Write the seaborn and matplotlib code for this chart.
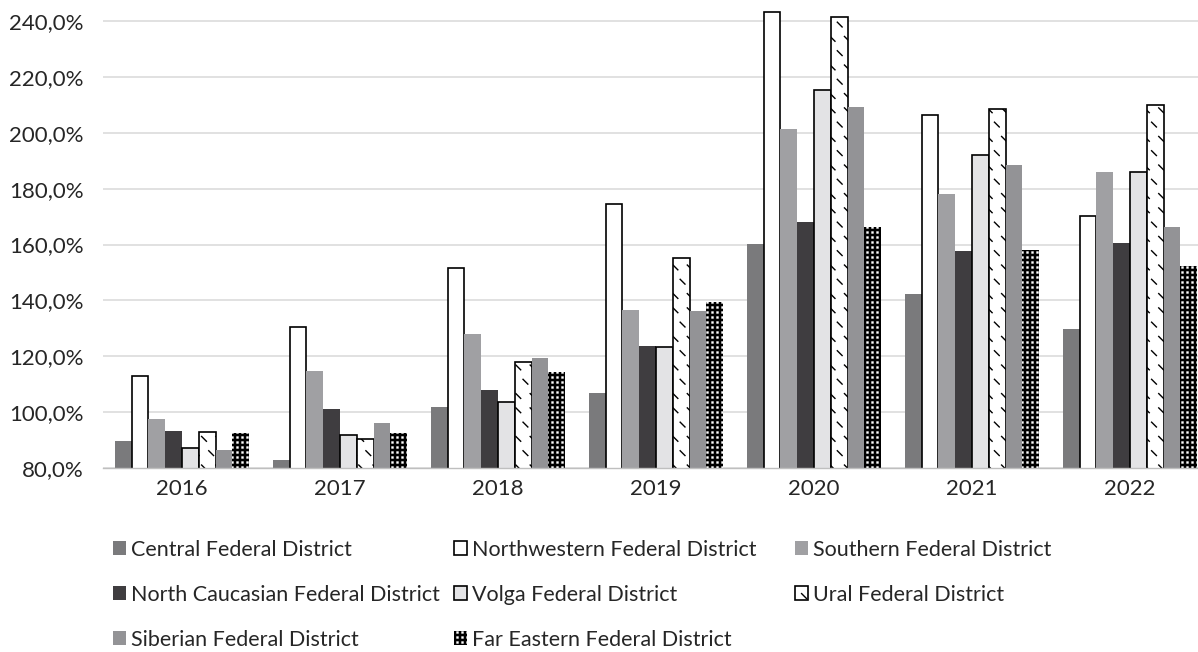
import numpy as np
import pandas as pd
import matplotlib
matplotlib.use("Agg")
import matplotlib.pyplot as plt
import matplotlib.hatch as mhatch
from matplotlib.path import Path
from matplotlib.patches import Patch
from matplotlib.ticker import FixedLocator, FuncFormatter
import seaborn as sns

# ---- data: growth index by federal district, % ----
years = ["2016", "2017", "2018", "2019", "2020", "2021", "2022"]
districts = [
    "Central Federal District",
    "Northwestern Federal District",
    "Southern Federal District",
    "North Caucasian Federal District",
    "Volga Federal District",
    "Ural Federal District",
    "Siberian Federal District",
    "Far Eastern Federal District",
]
central = [89.8, 82.9, 102.0, 106.8, 160.3, 142.2, 129.8]
northwestern = [113.0, 130.5, 151.7, 174.5, 243.2, 206.4, 170.2]
southern = [97.4, 114.8, 128.0, 136.7, 201.3, 178.0, 185.8]
north_caucasian = [93.2, 101.1, 108.0, 123.5, 168.0, 157.8, 160.7]
volga = [87.2, 91.7, 103.5, 123.2, 215.3, 192.0, 186.0]
ural = [92.9, 90.4, 118.0, 155.0, 241.5, 208.5, 210.0]
siberian = [86.3, 96.2, 119.5, 136.2, 209.1, 188.5, 166.4]
far_eastern = [92.4, 92.4, 114.5, 139.3, 166.2, 158.0, 152.3]
series = [central, northwestern, southern, north_caucasian,
          volga, ural, siberian, far_eastern]
y_ticks = [80, 100, 120, 140, 160, 180, 200, 220, 240]

# ---- styles per district ----
faces = ["#7a7a7c", "#ffffff", "#a0a0a3", "#3f3d40",
         "#e3e3e5", "#ffffff", "#939396", "#000000"]
edges = [None, "#000000", None, None, "#000000", "#000000", None, "#ffffff"]
DASH_HATCH = "\\."
DOT_HATCH = "+."
hatches = [None, None, None, None, None, DASH_HATCH, None, DOT_HATCH]


# ---- custom fill patterns: short diagonal dashes and a grid of dots ----
def _dash_pattern():
    n = 7
    step = 1.0 / n
    d = 0.024
    verts, codes = [], []
    for r in range(n):
        for c in range(n):
            cx = 0.04 + (c + 0.5 * (r % 2)) * step
            cy = 0.04 + r * step
            verts += [(cx - d, cy + d), (cx + d, cy - d)]
            codes += [Path.MOVETO, Path.LINETO]
    return Path(np.array(verts), np.array(codes, dtype=Path.code_type))


def _dot_pattern():
    n = 20
    step = 1.0 / n
    h = 0.005
    verts, codes = [], []
    for r in range(n):
        for c in range(n):
            cx = (c + 0.5) * step
            cy = (r + 0.5) * step
            verts += [(cx - h, cy - h), (cx + h, cy - h),
                      (cx + h, cy + h), (cx - h, cy + h), (cx - h, cy - h)]
            codes += [Path.MOVETO, Path.LINETO, Path.LINETO,
                      Path.LINETO, Path.CLOSEPOLY]
    return Path(np.array(verts), np.array(codes, dtype=Path.code_type))


_dash_path = _dash_pattern()
_dot_path = _dot_pattern()
_base_get_path = mhatch.get_path


def _get_path(hatchpattern, density=6):
    if hatchpattern == DASH_HATCH:
        return _dash_path
    if hatchpattern == DOT_HATCH:
        return _dot_path
    return _base_get_path(hatchpattern, density)


mhatch.get_path = _get_path

# ---- long-form table for seaborn ----
df = pd.DataFrame(
    [(y, name, vals[i]) for name, vals in zip(districts, series)
     for i, y in enumerate(years)],
    columns=["year", "district", "value"],
)

sns.set_theme(style="white")
plt.rcParams["font.family"] = ["Lato", "DejaVu Sans"]
plt.rcParams["hatch.linewidth"] = 1.0

W, H = 1198, 652
fig = plt.figure(figsize=(W / 100, H / 100), dpi=100)
ax = fig.add_axes([103 / W, 1 - 468 / H, 1106 / W, 468 / H])

sns.barplot(data=df, x="year", y="value", hue="district",
            order=years, hue_order=districts, palette=faces,
            saturation=1, width=0.85, legend=False, ax=ax, zorder=3)

for cont, fc, ec, ht in zip(ax.containers, faces, edges, hatches):
    for bar in cont:
        bar.set_facecolor(fc)
        if ec is None:
            bar.set_linewidth(0)
        elif ec == "#ffffff":
            bar.set_edgecolor(ec)
            bar.set_linewidth(0)
        else:
            bar.set_edgecolor(ec)
            bar.set_linewidth(1.2)
        if ht:
            bar.set_hatch(ht)

# ---- axes ----
ax.set_ylim(80, 80 + 468 / ((468 - 21) / 160))
ax.set_xlim(-0.5, len(years) - 0.5)
ax.yaxis.set_major_locator(FixedLocator(y_ticks))
ax.yaxis.set_major_formatter(
    FuncFormatter(lambda v, p: f"{v:.1f}".replace(".", ",") + "%"))
ax.set_axisbelow(True)
ax.grid(axis="y", color="#d9d9d9", linewidth=1.1, zorder=0)
ax.grid(axis="x", visible=False)
for s in ("left", "top", "right"):
    ax.spines[s].set_visible(False)
ax.spines["bottom"].set_color("#bfbfbf")
ax.spines["bottom"].set_linewidth(1.0)
ax.spines["bottom"].set_zorder(4)
ax.set_xlabel("")
ax.set_ylabel("")
ax.xaxis.set_minor_locator(FixedLocator(np.arange(-0.5, len(years), 1.0)))
ax.tick_params(axis="x", which="major", length=0, pad=8,
               labelsize=16, labelcolor="#262626")
ax.tick_params(axis="x", which="minor", length=6, width=1.0,
               color="#bfbfbf", direction="out")
ax.tick_params(axis="y", length=0, pad=14, labelsize=16,
               labelcolor="#262626")

# ---- legend, three columns ----
handles = []
for fc, ec, ht in zip(faces, edges, hatches):
    if ec is None or ec == "#ffffff":
        p = Patch(facecolor=fc, edgecolor=ec if ec else "none",
                  linewidth=0, hatch=ht)
    else:
        p = Patch(facecolor=fc, edgecolor=ec, linewidth=1.2, hatch=ht)
    handles.append(p)

col_x = [113, 454, 795]
columns = [[0, 3, 6], [1, 4, 7], [2, 5]]
for x, idx in zip(col_x, columns):
    fig.legend([handles[i] for i in idx], [districts[i] for i in idx],
               loc="upper left", bbox_to_anchor=(x / W, 1 - 540 / H),
               frameon=False, borderpad=0, borderaxespad=0,
               handlelength=0.62, handleheight=0.62, handletextpad=0.22,
               labelspacing=1.15, fontsize=15.5, labelcolor="#262626")

fig.savefig("out.png", dpi=100)
